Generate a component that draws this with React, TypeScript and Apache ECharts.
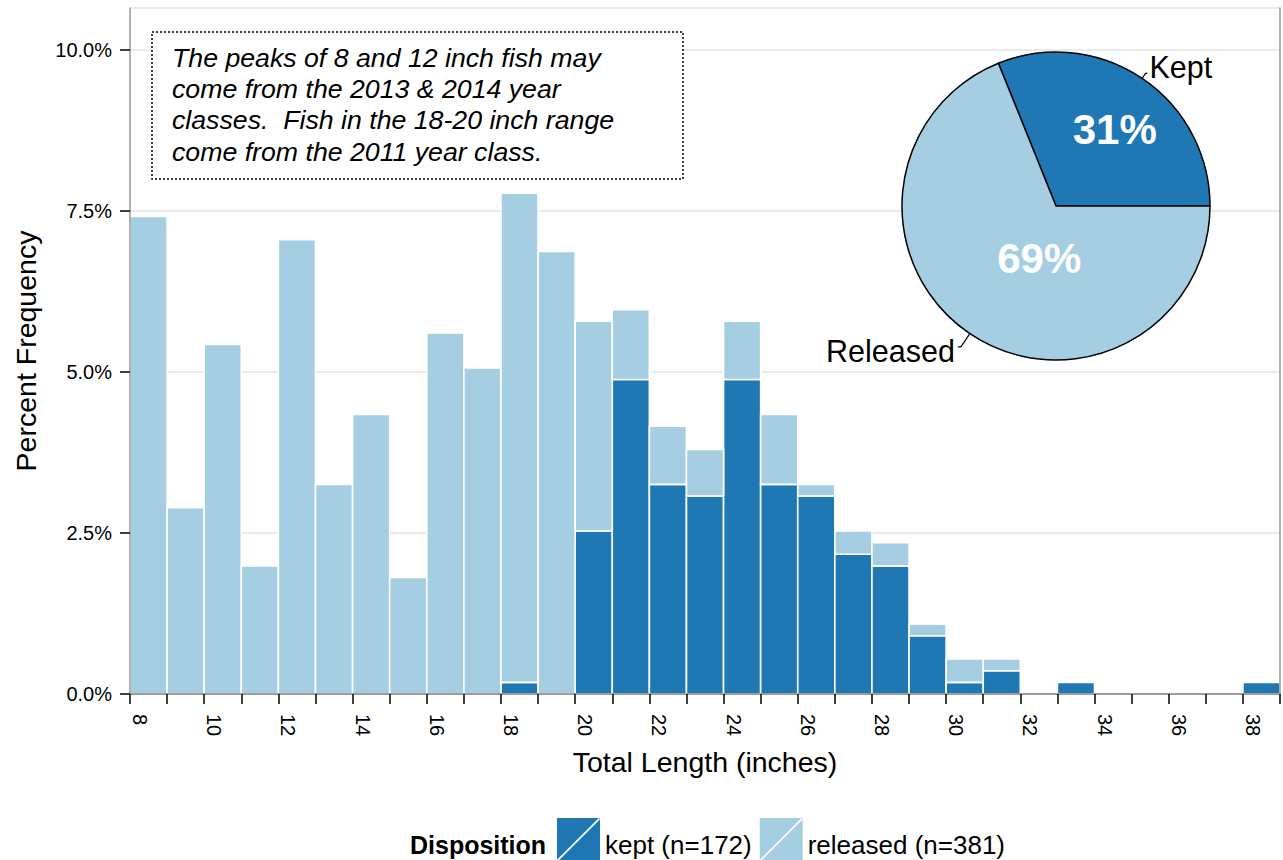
import React, { useEffect, useRef } from "react";
import * as echarts from "echarts";

// Histogram bins (inches): each bin spans [start, start + 1)
const binStarts = [8, 9, 10, 11, 12, 13, 14, 15, 16, 17, 18, 19, 20, 21, 22, 23, 24, 25, 26, 27, 28, 29, 30, 31, 32, 33, 34, 35, 36, 37, 38];
// Fish counts per bin
const keptCounts = [0, 0, 0, 0, 0, 0, 0, 0, 0, 0, 1, 0, 14, 27, 18, 17, 27, 18, 17, 12, 11, 5, 1, 2, 0, 1, 0, 0, 0, 0, 1];
const releasedCounts = [41, 16, 30, 11, 39, 18, 24, 10, 31, 28, 42, 38, 18, 6, 5, 4, 5, 6, 1, 2, 2, 1, 2, 1, 0, 0, 0, 0, 0, 0, 0];

const yTickValues = [0, 2.5, 5, 7.5, 10];
const legendLabels = ["kept (n=172)", "released (n=381)"];
const pieNames = ["Kept", "Released"];
const noteLines = [
  "The peaks of 8 and 12 inch fish may",
  "come from the 2013 & 2014 year",
  "classes.  Fish in the 18-20 inch range",
  "come from the 2011 year class.",
];

const KEPT = "#1f78b4";
const RELEASED = "#a6cee3";
const FONT = "'Liberation Sans', Arial, Helvetica, sans-serif";

export default function App() {
  const ref = useRef<HTMLDivElement>(null);

  useEffect(() => {
    if (!ref.current) return;
    const chart = echarts.init(ref.current, undefined, { renderer: "svg" });

    const total = keptCounts.reduce((a, b) => a + b, 0) + releasedCounts.reduce((a, b) => a + b, 0);
    const keptTotal = keptCounts.reduce((a, b) => a + b, 0);
    const relTotal = releasedCounts.reduce((a, b) => a + b, 0);

    const keptData: number[][] = [];
    const relData: number[][] = [];
    binStarts.forEach((s, i) => {
      const k = (keptCounts[i] / total) * 100;
      const r = (releasedCounts[i] / total) * 100;
      if (keptCounts[i] > 0) keptData.push([s, 0, k]);
      if (releasedCounts[i] > 0) relData.push([s, k, k + r]);
    });

    const makeRender = (color: string) => (params: any, api: any) => {
      const x0 = api.value(0);
      const lo = api.value(1);
      const hi = api.value(2);
      const p0 = api.coord([x0, lo]);
      const p1 = api.coord([x0 + 1, hi]);
      return {
        type: "rect",
        shape: { x: p0[0], y: p1[1], width: p1[0] - p0[0], height: p0[1] - p1[1] },
        style: { fill: color, stroke: "#ffffff", lineWidth: 1.6 },
      };
    };

    const legendIcon = "path://M0,0L36,0L36,36L0,36Z M0,35L1,36L36,1L35,0Z";

    const option: any = {
      animation: false,
      textStyle: { fontFamily: FONT },
      grid: { left: 130, right: 3, top: 8, bottom: 166, containLabel: false },
      legend: {
        data: legendLabels.map((n) => ({ name: n, icon: legendIcon })),
        left: 557,
        top: 818,
        itemWidth: 43,
        itemHeight: 43,
        itemGap: 8,
        padding: 0,
        selectedMode: false,
        formatter: (name: string) => "{t|" + name + "}",
        textStyle: {
          fontSize: 26,
          color: "#000",
          fontFamily: FONT,
          rich: { t: { fontSize: 26, color: "#000", fontFamily: FONT, padding: [10, 0, 0, 0] } },
        },
      },
      xAxis: [
        {
          type: "value",
          min: 8,
          max: 39,
          interval: 1,
          z: 5,
          position: "bottom",
          name: "Total Length (inches)",
          nameLocation: "middle",
          nameGap: 53,
          nameTextStyle: { fontSize: 28.5, color: "#000", fontFamily: FONT },
          axisLine: { show: true, lineStyle: { color: "#999", width: 1.5 } },
          axisTick: { show: true, length: 10, lineStyle: { color: "#000", width: 1.5 } },
          axisLabel: {
            show: true,
            rotate: -90,
            margin: 20,
            fontSize: 20,
            color: "#000",
            fontFamily: FONT,
            verticalAlign: "bottom",
            formatter: (v: number) => (v % 2 === 0 ? String(v) : ""),
          },
          splitLine: { show: false },
        },
        {
          type: "value",
          position: "top",
          min: 8,
          max: 39,
          z: 5,
          axisLine: { show: true, lineStyle: { color: "#999", width: 1.5 } },
          axisTick: { show: false },
          axisLabel: { show: false },
          splitLine: { show: false },
        },
      ],
      yAxis: [
        {
          type: "value",
          position: "left",
          min: 0,
          max: 10.65,
          interval: 2.5,
          axisLine: { show: false },
          axisTick: { show: false },
          axisLabel: { show: false },
          splitLine: { show: true, lineStyle: { color: "#e3e3e3", width: 1.5 } },
        },
        {
          type: "value",
          position: "left",
          min: 0,
          max: 10.65,
          interval: 2.5,
          z: 5,
          name: "Percent Frequency",
          nameLocation: "middle",
          nameGap: 90,
          nameTextStyle: { fontSize: 28.5, color: "#000", fontFamily: FONT },
          axisLine: { show: true, lineStyle: { color: "#999", width: 1.5 } },
          axisTick: { show: true, length: 10, customValues: yTickValues, lineStyle: { color: "#000", width: 1.5 } },
          axisLabel: {
            show: true,
            margin: 18,
            fontSize: 20,
            color: "#000",
            fontFamily: FONT,
            customValues: yTickValues,
            formatter: (v: number) => v.toFixed(1) + "%",
          },
          splitLine: { show: false },
        },
        {
          type: "value",
          position: "right",
          min: 0,
          max: 10.65,
          z: 5,
          axisLine: { show: true, lineStyle: { color: "#999", width: 1.5 } },
          axisTick: { show: false },
          axisLabel: { show: false },
          splitLine: { show: false },
        },
      ],
      series: [
        {
          name: legendLabels[0],
          type: "custom",
          xAxisIndex: 0,
          yAxisIndex: 0,
          itemStyle: { color: KEPT },
          encode: { x: 0, y: [1, 2] },
          data: keptData,
          renderItem: makeRender(KEPT),
          z: 2,
        },
        {
          name: legendLabels[1],
          type: "custom",
          xAxisIndex: 0,
          yAxisIndex: 0,
          itemStyle: { color: RELEASED },
          encode: { x: 0, y: [1, 2] },
          data: relData,
          renderItem: makeRender(RELEASED),
          z: 2,
        },
        {
          type: "pie",
          name: "share",
          center: [1056, 206],
          radius: 154,
          startAngle: 0,
          clockwise: false,
          silent: true,
          z: 6,
          itemStyle: { borderColor: "#000", borderWidth: 1.5 },
          labelLine: { show: false },
          data: [
            {
              name: pieNames[0],
              value: keptTotal,
              itemStyle: { color: KEPT },
              label: { offset: [14, -10] },
            },
            {
              name: pieNames[1],
              value: relTotal,
              itemStyle: { color: RELEASED },
              label: { offset: [28, -14] },
            },
          ],
          label: {
            show: true,
            position: "inside",
            fontSize: 42,
            fontWeight: "bold",
            color: "#fff",
            fontFamily: FONT,
            formatter: (p: any) => Math.round(p.percent) + "%",
          },
        },
        {
          type: "pie",
          name: "names",
          center: [1056, 206],
          radius: 154,
          startAngle: 0,
          clockwise: false,
          silent: true,
          z: 7,
          itemStyle: { color: "rgba(0,0,0,0)", borderWidth: 0 },
          label: {
            show: true,
            position: "outside",
            fontSize: 30.5,
            color: "#000",
            fontFamily: FONT,
            formatter: "{b}",
          },
          labelLine: { show: true, length: 6, length2: 2, lineStyle: { color: "#000", width: 1.2 } },
          data: [
            { name: pieNames[0], value: keptTotal, label: { offset: [-3, -6] } },
            { name: pieNames[1], value: relTotal, labelLine: { length: 16, length2: 3 }, label: { offset: [2, 4] } },
          ],
        },
      ],
      graphic: [
        {
          type: "rect",
          z: 10,
          shape: { x: 152, y: 32, width: 531, height: 147 },
          style: { fill: "#fff", stroke: "#000", lineWidth: 1.5, lineDash: [2, 2] },
        },
        {
          type: "text",
          z: 11,
          x: 172,
          y: 42,
          style: {
            text: noteLines.join("\n"),
            font: "italic 26.7px " + FONT,
            fill: "#000",
            lineHeight: 31.3,
            verticalAlign: "top",
            align: "left",
          },
        },
        {
          type: "text",
          z: 11,
          x: 410,
          y: 845,
          style: {
            text: "Disposition",
            font: "bold 25px " + FONT,
            fill: "#000",
            verticalAlign: "middle",
            align: "left",
          },
        },
      ],
    };

    chart.setOption(option);
    return () => chart.dispose();
  }, []);

  return (
    <div
      ref={ref}
      style={{ position: "absolute", left: 0, top: 0, width: 1283, height: 860, background: "#fff" }}
    />
  );
}
